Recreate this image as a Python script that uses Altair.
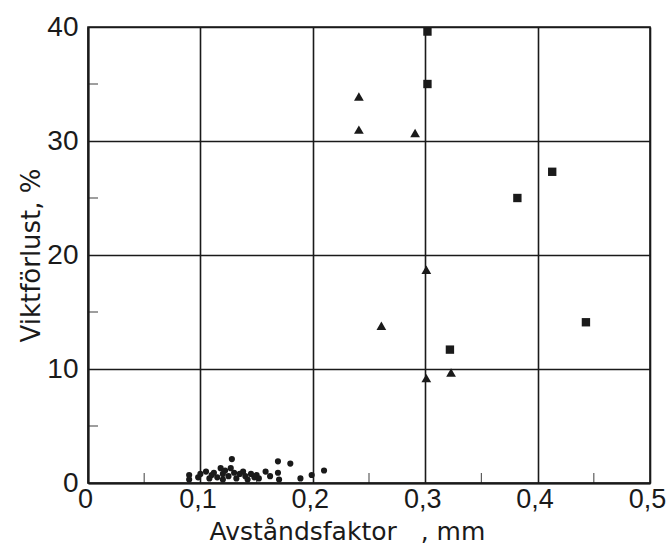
import altair as alt
import pandas as pd

# Data
dot_x = [0.09, 0.09, 0.098, 0.10, 0.105, 0.108, 0.11, 0.112, 0.115, 0.118, 0.12, 0.12,
         0.122, 0.125, 0.127, 0.128, 0.13, 0.132, 0.135, 0.138, 0.14, 0.142, 0.145,
         0.148, 0.15, 0.152, 0.158, 0.162, 0.169, 0.169, 0.17, 0.18, 0.189, 0.199, 0.21]
dot_y = [0.7, 0.3, 0.5, 0.8, 1.0, 0.4, 0.7, 0.9, 0.5, 1.3, 0.8, 0.3,
         1.1, 0.6, 1.3, 2.1, 0.9, 0.4, 0.8, 1.0, 0.6, 0.3, 0.8,
         0.5, 0.7, 0.4, 1.0, 0.6, 1.9, 0.9, 0.3, 1.7, 0.4, 0.7, 1.1]
tri_x = [0.241, 0.241, 0.291, 0.301, 0.261, 0.301, 0.323]
tri_y = [33.9, 31.0, 30.7, 18.7, 13.8, 9.2, 9.7]
sq_x = [0.302, 0.302, 0.382, 0.413, 0.443, 0.322]
sq_y = [39.6, 35.0, 25.0, 27.3, 14.1, 11.7]

x_ticks = [0, 0.1, 0.2, 0.3, 0.4, 0.5]
y_ticks = [0, 10, 20, 30, 40]
x_minor = [0.05, 0.15, 0.25, 0.35, 0.45]
y_minor = [5, 15, 25, 35]

W, H = 562, 456
INK = "#1a1a1a"
LFONT = "Liberation Sans"
TFONT = "DejaVu Sans"
NB = "\u00a0"

dots = pd.DataFrame({"x": dot_x, "y": dot_y})
tris = pd.DataFrame({"x": tri_x, "y": tri_y})
sqs = pd.DataFrame({"x": sq_x, "y": sq_y})

xscale = alt.Scale(domain=[0, 0.5], nice=False, zero=False)
yscale = alt.Scale(domain=[0, 40], nice=False, zero=False)

xaxis = alt.Axis(values=x_ticks, labelExpr="replace(format(datum.value, '.1~f'), '.', ',')",
                 title="Avståndsfaktor" + NB * 3 + "," + NB + "mm",
                 grid=True, gridColor=INK, gridWidth=1.6,
                 gridOpacity=1, ticks=False, domainColor=INK, domainWidth=2,
                 labelFont=LFONT, labelFontSize=27, labelColor=INK, labelPadding=3,
                 labelOffset=-3,
                 titleFont=TFONT, titleFontSize=25, titleFontWeight="normal", titleColor=INK,
                 titlePadding=7, titleX=121, titleAnchor="start", titleAlign="left",
                 labelFlush=False)
yaxis = alt.Axis(values=y_ticks, title="Viktförlust, %", grid=True, gridColor=INK,
                 gridWidth=1.6, gridOpacity=1, ticks=False, domainColor=INK, domainWidth=2,
                 labelFont=LFONT, labelFontSize=28, labelColor=INK, labelPadding=10,
                 titleFont=TFONT, titleFontSize=26, titleFontWeight="normal", titleColor=INK,
                 titlePadding=2, labelFlush=False)

base_dots = alt.Chart(dots).mark_circle(size=38, color=INK, opacity=1).encode(
    x=alt.X("x:Q", scale=xscale, axis=xaxis),
    y=alt.Y("y:Q", scale=yscale, axis=yaxis),
)
tri_layer = alt.Chart(tris).mark_point(shape="triangle-up", filled=True, size=95,
                                        color=INK, opacity=1).encode(
    x=alt.X("x:Q", scale=xscale), y=alt.Y("y:Q", scale=yscale))
sq_layer = alt.Chart(sqs).mark_square(size=70, color=INK, opacity=1).encode(
    x=alt.X("x:Q", scale=xscale), y=alt.Y("y:Q", scale=yscale))

xm = alt.Chart(pd.DataFrame({"x": x_minor})).mark_tick(
    color=INK, size=10, thickness=1.2, orient="vertical").encode(
    x=alt.X("x:Q", scale=xscale), y=alt.value(H - 5))
ym = alt.Chart(pd.DataFrame({"y": y_minor})).mark_tick(
    color=INK, size=10, thickness=1.2, orient="horizontal").encode(
    y=alt.Y("y:Q", scale=yscale), x=alt.value(5))

chart = alt.layer(base_dots, tri_layer, sq_layer, xm, ym).properties(
    width=W, height=H,
    autosize=alt.AutoSizeParams(type="none"),
    padding={"left": 88, "top": 27, "right": 18, "bottom": 65},
    background="white",
).configure_view(stroke=INK, strokeWidth=1.6)

chart.save("out.html", embed_options={"renderer": "svg", "actions": False})
